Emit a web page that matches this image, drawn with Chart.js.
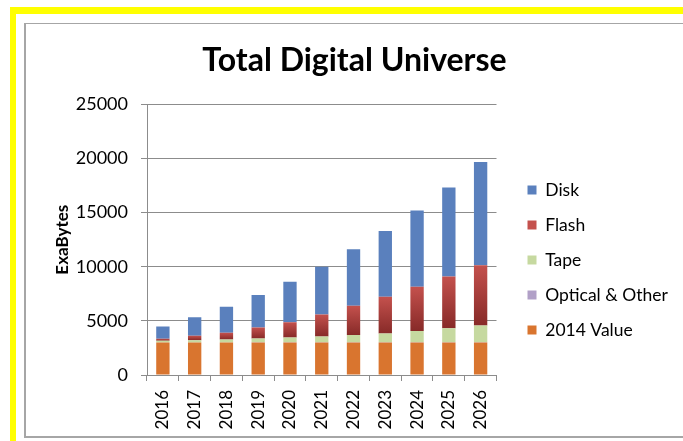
<!DOCTYPE html>
<html>
<head>
<meta charset="utf-8">
<script src="https://cdn.jsdelivr.net/npm/chart.js@4.4.1/dist/chart.umd.min.js"></script>
<style>
body{margin:0;background:#fff;width:683px;height:441px;overflow:hidden;position:relative}
#yTop{position:absolute;left:10px;top:7px;width:673px;height:7px;background:#ffff00}
#yLeft{position:absolute;left:10px;top:7px;width:6px;height:434px;background:#ffff00}
#frame{position:absolute;left:24px;top:23px;width:670px;height:412px;border-left:2px solid #a6a6a6;border-top:1px solid #a6a6a6;border-bottom:2px solid #a6a6a6}
#wrap{position:absolute;left:26px;top:24px;width:657px;height:412px}
</style>
</head>
<body>
<div id="yTop"></div>
<div id="yLeft"></div>
<div id="frame"></div>
<div id="wrap"><canvas id="universeChart"></canvas></div>
<script>
const years = ["2016","2017","2018","2019","2020","2021","2022","2023","2024","2025","2026"];
const base2014 = [3000,3000,3000,3000,3000,3000,3000,3000,3000,3000,3000];
const optical = [10,12,14,16,18,20,22,24,26,28,30];
const tape = [150,210,270,355,440,540,680,805,1035,1280,1550];
const flash = [180,400,620,1010,1420,2030,2690,3390,4090,4790,5570];
const disk = [1135,1720,2390,3010,3730,4410,5220,6080,7040,8220,9530];
const yTicks = [0,5000,10000,15000,20000,25000];

const gridGrey = "#8c8c8c";
const font = "Lato";

function flashFill(c){
  const y = c.chart.scales.y;
  if (c.type !== "data" || !y) return "#b8433f";
  const i = c.dataIndex;
  const lo = base2014[i] + optical[i] + tape[i];
  const hi = lo + flash[i];
  const p0 = y.getPixelForValue(lo), p1 = y.getPixelForValue(hi);
  if (!isFinite(p0) || !isFinite(p1) || p0 === p1) return "#b8433f";
  const g = c.chart.ctx.createLinearGradient(0, p1, 0, p0);
  g.addColorStop(0, "#c4514d");
  g.addColorStop(1, "#872a28");
  return g;
}

// keep the legend just right of the plot, like the original
const legendBeside = {
  id: "legendBeside",
  afterLayout(chart){
    const lg = chart.legend;
    if (!lg) return;
    lg.left = chart.chartArea.right + 13.5;
    lg.right = chart.width;
    lg.width = lg.right - lg.left;
  }
};

const ctx = document.getElementById("universeChart");

new Chart(ctx, {
type: "bar",
data: {
labels: years,
datasets: [
{label:"2014 Value", data: base2014, backgroundColor:"#d9752f"},
{label:"Optical & Other", data: optical, backgroundColor:"#b1a0c7"},
{label:"Tape", data: tape, backgroundColor:"#c6d9a0"},
{label:"Flash", data: flash, backgroundColor: flashFill},
{label:"Disk", data: disk, backgroundColor:"#5a80bd"}
]
},
plugins:[legendBeside],
options:{
responsive:true,
maintainAspectRatio:false,
animation:false,
categoryPercentage:1,
barPercentage:0.42,
layout:{padding:0},
plugins:{
title:{
display:true,
text:"Total Digital Universe",
color:"#000",
font:{family:font,size:32,weight:"bold"},
padding:{top:17,bottom:25}
},
legend:{
position:"right",
reverse:true,
title:{display:true,text:"",font:{size:10,lineHeight:1},padding:{top:0,bottom:50}},
labels:{
color:"#000",
font:{family:font,size:17.5},
boxWidth:9,
boxHeight:9,
padding:17.5
}
},
tooltip:{enabled:false}
},
scales:{
x:{
stacked:true,
grid:{display:true,drawOnChartArea:false,drawTicks:true,tickLength:6,color:gridGrey},
border:{display:true,color:gridGrey},
ticks:{color:"#000",font:{family:font,size:17},minRotation:90,maxRotation:90,padding:9},
afterFit:function(s){s.height=61;}
},
y:{
stacked:true,
min:0,
max:25000,
afterBuildTicks:function(s){s.ticks=yTicks.map(function(v){return {value:v};});},
grid:{color:gridGrey,tickLength:6},
border:{display:true,color:gridGrey},
ticks:{color:"#000",font:{family:font,size:18},padding:13,callback:function(v){return String(v);}},
title:{display:true,text:"ExaBytes",color:"#000",font:{family:font,size:17,weight:"bold"},padding:{top:26,bottom:0}},
afterFit:function(s){s.width=121;}
},
pad:{
position:"right",
display:true,
grid:{display:false},
border:{display:false},
ticks:{display:false},
afterFit:function(s){s.width=77;}
}
}
}
});
</script>
</body>
</html>
